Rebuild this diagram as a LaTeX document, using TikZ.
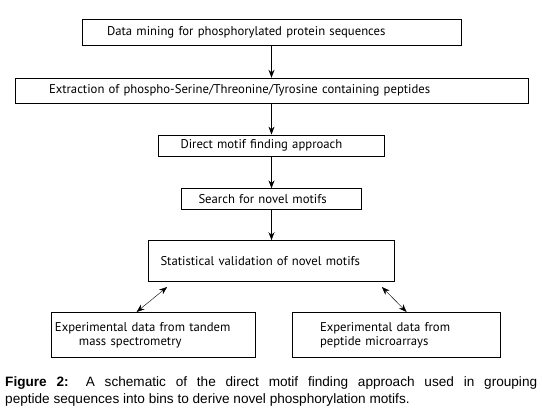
\documentclass[tikz,border=0pt]{standalone}
\usepackage{fontspec}
\setmainfont{PT Sans}
\newfontfamily\capfont{Liberation Sans}
\usetikzlibrary{arrows.meta,positioning}

\begin{document}
\begin{tikzpicture}[
  font=\fontsize{12.7}{14}\selectfont,
  box/.style={rectangle, draw=black, line width=0.8pt, align=left,
              inner ysep=0pt, anchor=north},
  captext/.style={anchor=north west, inner sep=0pt, align=justify,
              text width=532pt, font=\capfont\fontsize{13.6}{17}\selectfont},
  a/.style={-{Stealth[length=8pt,width=6pt]}, line width=1pt},
  da/.style={{Stealth[length=8pt,width=6pt]}-{Stealth[length=8pt,width=6pt]},
             line width=0.4pt}
]
\useasboundingbox (0pt,0pt) rectangle (542pt,-417pt);

% ---------------- main column ----------------
\node[box, text width=329pt, inner xsep=25pt, minimum height=26pt]
  (mining) at (271.5pt,-19pt) {Data mining for phosphorylated protein sequences};
\node[box, text width=445pt, inner xsep=34pt, minimum height=25pt,
      below=32pt of mining] (extract)
  {Extraction of phospho-Serine/Threonine/Tyrosine containing peptides};
\node[box, text width=182pt, inner xsep=22pt, minimum height=21pt,
      below=31pt of extract] (direct) {Direct motif finding approach};
\node[box, text width=146pt, inner xsep=17pt, minimum height=21pt,
      below=32pt of direct] (search) {Search for novel motifs};
\node[box, text width=222pt, inner xsep=12pt, minimum height=41pt,
      below=30pt of search] (valid) {Statistical validation of novel motifs};

% ---------------- experimental data ----------------
\node[box, text width=196pt, inner xsep=4pt, minimum height=45pt]
  (tandem) at (153pt,-312pt)
  {Experimental data from tandem\\ \hspace*{24pt}mass spectrometry};
\node[box, text width=152pt, inner xsep=28pt, minimum height=45pt]
  (arrays) at (396pt,-312pt)
  {Experimental data from\\ peptide microarrays};

% ---------------- caption ----------------
\node[captext] (caption) at (5pt,-376pt)
  {\textbf{Figure 2:} A schematic of the direct motif finding approach used in
   grouping\linebreak peptide sequences into bins to derive novel phosphorylation motifs.};

% ---------------- arrows ----------------
\draw[a] (mining) -- (extract);
\draw[a] (extract) -- (direct);
\draw[a] (direct) -- (search);
\draw[a] (search) -- (valid);
\draw[da] ([xshift=19pt,yshift=-5pt]valid.south west) -- ([xshift=86pt]tandem.north west);
\draw[da] ([xshift=-13pt,yshift=-5pt]valid.south east) -- ([xshift=115pt]arrays.north west);
\end{tikzpicture}
\end{document}
